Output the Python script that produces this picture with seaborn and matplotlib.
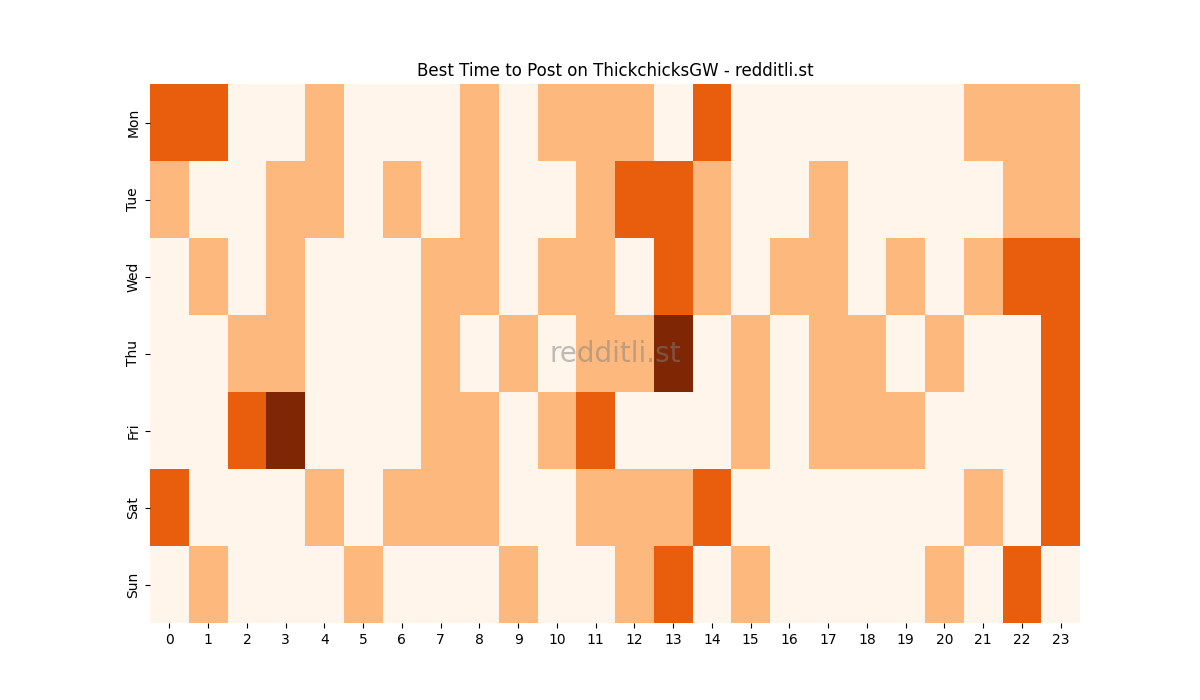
import numpy as np
import pandas as pd
import seaborn as sns
import matplotlib
matplotlib.use("Agg")
import matplotlib.pyplot as plt

days = ["Mon", "Tue", "Wed", "Thu", "Fri", "Sat", "Sun"]
hours = list(range(24))

mon = [2, 2, 0, 0, 1, 0, 0, 0, 1, 0, 1, 1, 1, 0, 2, 0, 0, 0, 0, 0, 0, 1, 1, 1]
tue = [1, 0, 0, 1, 1, 0, 1, 0, 1, 0, 0, 1, 2, 2, 1, 0, 0, 1, 0, 0, 0, 0, 1, 1]
wed = [0, 1, 0, 1, 0, 0, 0, 1, 1, 0, 1, 1, 0, 2, 1, 0, 1, 1, 0, 1, 0, 1, 2, 2]
thu = [0, 0, 1, 1, 0, 0, 0, 1, 0, 1, 0, 1, 1, 3, 0, 1, 0, 1, 1, 0, 1, 0, 0, 2]
fri = [0, 0, 2, 3, 0, 0, 0, 1, 1, 0, 1, 2, 0, 0, 0, 1, 0, 1, 1, 1, 0, 0, 0, 2]
sat = [2, 0, 0, 0, 1, 0, 1, 1, 1, 0, 0, 1, 1, 1, 2, 0, 0, 0, 0, 0, 0, 1, 0, 2]
sun = [0, 1, 0, 0, 0, 1, 0, 0, 0, 1, 0, 0, 1, 2, 0, 1, 0, 0, 0, 0, 1, 0, 2, 0]


def main():
    df = pd.DataFrame([mon, tue, wed, thu, fri, sat, sun], index=days, columns=hours)

    fig, ax = plt.subplots(figsize=(12, 7), dpi=100)
    sns.heatmap(df, cmap="Oranges", vmin=0, vmax=3, cbar=False, ax=ax)
    ax.set_title("Best Time to Post on ThickchicksGW - redditli.st")
    ax.set_xlabel("")
    ax.set_ylabel("")

    # watermark
    ax.text(0.5, 0.5, "redditli.st", transform=ax.transAxes, ha="center", va="center",
            fontsize=20, color="gray", alpha=0.5)

    plt.savefig("out.png", dpi=100)
    plt.close()


if __name__ == "__main__":
    main()
